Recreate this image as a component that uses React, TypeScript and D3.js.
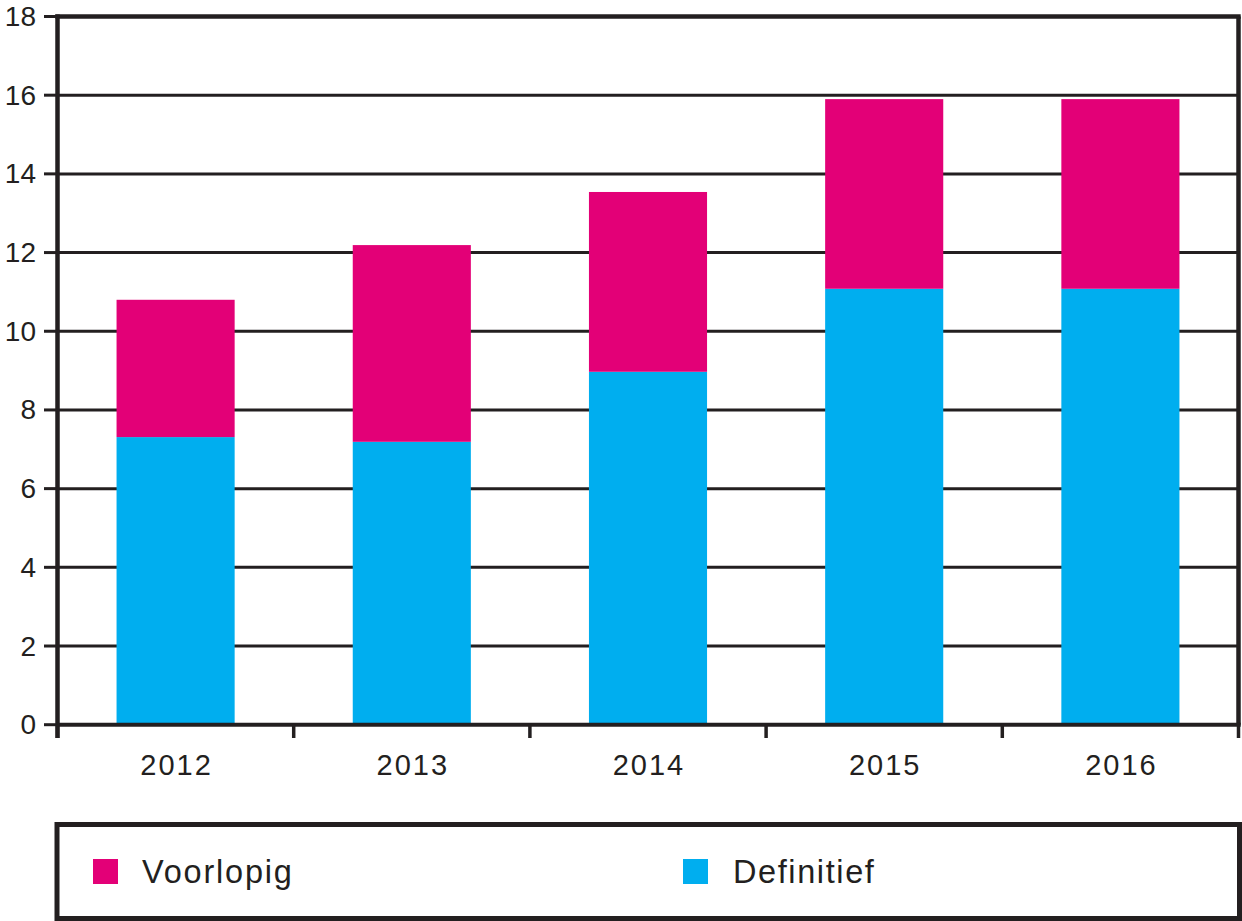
import React from "react";
import * as d3 from "d3";

const categories = ["2012", "2013", "2014", "2015", "2016"];
const definitief = [7.31, 7.19, 8.97, 11.08, 11.08];
const voorlopig = [3.49, 5.0, 4.57, 4.82, 4.82];
const yTicks = [0, 2, 4, 6, 8, 10, 12, 14, 16, 18];
const seriesNames = ["Voorlopig", "Definitief"];

const MAGENTA = "#E30077";
const CYAN = "#00AEEF";
const INK = "#231F20";
const FONT = "'Liberation Sans', Arial, Helvetica, sans-serif";

export default function App() {
  const left = 57.5;
  const right = 1238.5;
  const top = 16.5;
  const bottom = 724.7;

  const x = d3.scaleBand<string>().domain(categories).range([left, right]).paddingInner(0.5).paddingOuter(0.25);
  const xOuter = d3.scaleBand<string>().domain(categories).range([left, right]);
  const y = d3.scaleLinear().domain([0, 18]).range([bottom, top]);

  const rows = categories.map((c, i) => ({ c, def: definitief[i], voor: voorlopig[i] }));
  const stack = d3.stack<any>().keys(["def", "voor"])(rows);
  const colors: Record<string, string> = { def: CYAN, voor: MAGENTA };

  const boundaries = categories.map((c) => xOuter(c) as number).concat([right]);

  return (
    <svg width={1242} height={921} style={{ position: "absolute", left: 0, top: 0, background: "#fff" }}>
      {/* gridlines */}
      {yTicks.filter((t) => t > 0 && t < 18).map((t) => (
        <line key={"g" + t} x1={left} x2={right} y1={y(t)} y2={y(t)} stroke={INK} strokeWidth={3} />
      ))}
      {/* bars */}
      {stack.map((s) => (
        <g key={s.key} fill={colors[s.key]}>
          {s.map((d, i) => (
            <rect key={i} x={x(categories[i])} width={x.bandwidth()} y={y(d[1])} height={y(d[0]) - y(d[1])} />
          ))}
        </g>
      ))}
      {/* frame */}
      <line x1={left - 2.2} x2={right + 2.2} y1={top} y2={top} stroke={INK} strokeWidth={4.5} />
      <line x1={right} x2={right} y1={top} y2={bottom} stroke={INK} strokeWidth={4.5} />
      <line x1={left} x2={left} y1={top - 2} y2={738} stroke={INK} strokeWidth={4.5} />
      <line x1={left} x2={right + 2.2} y1={bottom} y2={bottom} stroke={INK} strokeWidth={4} />
      {/* y ticks */}
      {yTicks.map((t) => (
        <g key={"y" + t}>
          <line x1={44} x2={left} y1={y(t)} y2={y(t)} stroke={INK} strokeWidth={3} />
          <text x={36} y={y(t) + 9.5} textAnchor="end" fontFamily={FONT} fontSize={28} fill={INK}>
            {t}
          </text>
        </g>
      ))}
      {/* x ticks */}
      {boundaries.map((bx, i) => (
        <line key={"xt" + i} x1={bx} x2={bx} y1={bottom} y2={738} stroke={INK} strokeWidth={3.5} />
      ))}
      {categories.map((c) => (
        <text key={c} x={(x(c) as number) + x.bandwidth() / 2 + 1} y={774.5} textAnchor="middle" fontFamily={FONT} fontSize={29} letterSpacing={2} fill={INK}>
          {c}
        </text>
      ))}
      {/* legend */}
      <rect x={57} y={824.5} width={1182.5} height={94} fill="none" stroke={INK} strokeWidth={5} />
      <rect x={93} y={859} width={25} height={25} fill={MAGENTA} />
      <text x={142} y={883} fontFamily={FONT} fontSize={32.5} letterSpacing={1.8} fill={INK}>
        {seriesNames[0]}
      </text>
      <rect x={683} y={859} width={25} height={25} fill={CYAN} />
      <text x={733} y={883} fontFamily={FONT} fontSize={32.5} letterSpacing={1.6} fill={INK}>
        {seriesNames[1]}
      </text>
    </svg>
  );
}
